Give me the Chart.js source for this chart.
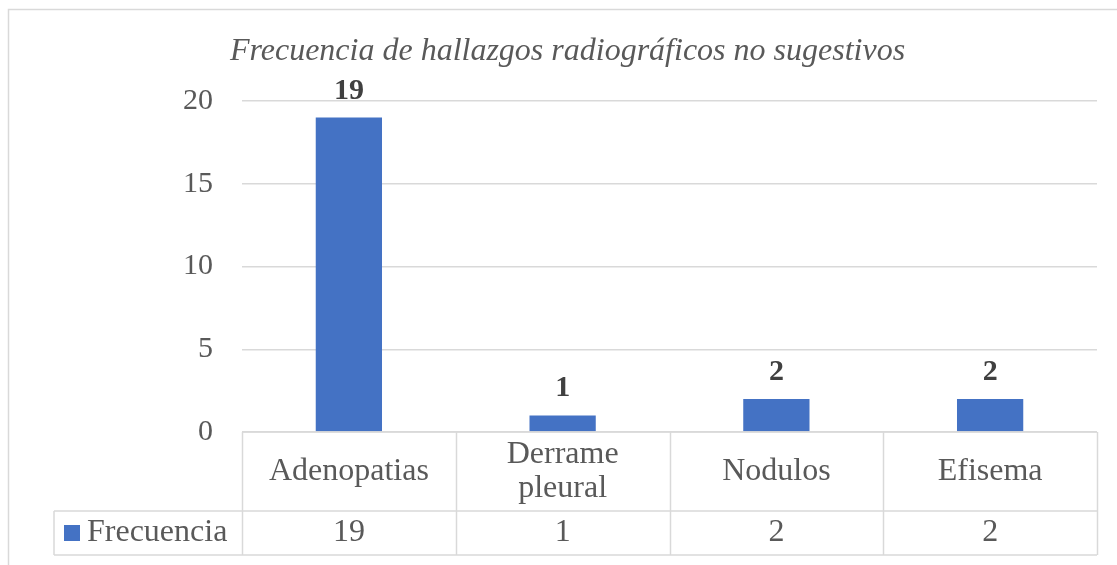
<!DOCTYPE html>
<html lang="es">
<head>
  <meta charset="UTF-8" />
  <title>Frecuencia de hallazgos radiográficos no sugestivos</title>
  <script src="https://cdn.jsdelivr.net/npm/chart.js"></script>
  <style>
    html, body { margin: 0; padding: 0; background: #fff; }
    #wrap { width: 1117px; height: 565px; position: relative; }
  </style>
</head>
<body>
  <div id="wrap"><canvas id="barChart"></canvas></div>
  <script>
    // data
    const categories = ['Adenopatias', ['Derrame', 'pleural'], 'Nodulos', 'Efisema'];
    const frecuencia = [19, 1, 2, 2];
    const seriesName = 'Frecuencia';
    const yTicks = [0, 5, 10, 15, 20];
    const chartTitle = 'Frecuencia de hallazgos radiográficos no sugestivos';

    const FONT = '"Liberation Serif", "Times New Roman", serif';
    const GREY = '#595959';
    const LINE = '#d9d9d9';
    const BLUE = '#4472c4';

    // outer chart border (right and bottom run off the picture) + title
    const frame = {
      id: 'frame',
      beforeDraw(chart) {
        const ctx = chart.ctx;
        ctx.save();
        ctx.strokeStyle = LINE;
        ctx.lineWidth = 1.5;
        ctx.strokeRect(8.5, 9.5, 1200, 700);
        ctx.font = 'italic 32px ' + FONT;
        ctx.fillStyle = GREY;
        ctx.textAlign = 'center';
        ctx.textBaseline = 'alphabetic';
        ctx.fillText(chartTitle, 567.5, 59.5);
        ctx.restore();
      }
    };

    // value labels above bars
    const barLabels = {
      id: 'barLabels',
      afterDatasetsDraw(chart) {
        const ctx = chart.ctx;
        const meta = chart.getDatasetMeta(0);
        ctx.save();
        ctx.font = 'bold 30px ' + FONT;
        ctx.fillStyle = '#404040';
        ctx.textAlign = 'center';
        ctx.textBaseline = 'alphabetic';
        meta.data.forEach((bar, i) => {
          ctx.fillText(String(frecuencia[i]), bar.x, bar.y - 19);
        });
        ctx.restore();
      }
    };

    // data table under the plot
    const dataTable = {
      id: 'dataTable',
      afterDraw(chart) {
        const ctx = chart.ctx;
        const area = chart.chartArea;
        const xs = chart.scales.x;
        const n = categories.length;
        const step = (area.right - area.left) / n;
        const top = area.bottom;
        const mid = top + 79;
        const bot = top + 123;
        const keyLeft = area.left - 188;

        ctx.save();
        ctx.strokeStyle = LINE;
        ctx.lineWidth = 1.5;
        ctx.beginPath();
        ctx.moveTo(area.left, top); ctx.lineTo(area.right, top);
        ctx.moveTo(keyLeft, mid); ctx.lineTo(area.right, mid);
        ctx.moveTo(keyLeft, bot); ctx.lineTo(area.right, bot);
        for (let i = 0; i <= n; i++) {
          const x = Math.round(area.left + i * step) + 0.5;
          ctx.moveTo(x, top); ctx.lineTo(x, bot);
        }
        ctx.moveTo(keyLeft, mid); ctx.lineTo(keyLeft, bot);
        ctx.stroke();

        ctx.font = '32px ' + FONT;
        ctx.fillStyle = GREY;
        ctx.textAlign = 'center';
        ctx.textBaseline = 'middle';
        categories.forEach((lab, i) => {
          const cx = xs.getPixelForValue(i);
          const lines = Array.isArray(lab) ? lab : [lab];
          const lh = 34;
          const y0 = (top + mid) / 2 - (lines.length - 1) * lh / 2;
          lines.forEach((t, j) => ctx.fillText(t, cx, y0 + j * lh));
          ctx.fillText(String(frecuencia[i]), cx, (mid + bot) / 2);
        });

        ctx.fillStyle = BLUE;
        ctx.fillRect(keyLeft + 10, (mid + bot) / 2 - 8, 16, 16);
        ctx.fillStyle = GREY;
        ctx.textAlign = 'left';
        ctx.fillText(seriesName, keyLeft + 33, (mid + bot) / 2);
        ctx.restore();
      }
    };

    new Chart(document.getElementById('barChart'), {
      type: 'bar',
      data: {
        labels: categories,
        datasets: [{
          label: seriesName,
          data: frecuencia,
          backgroundColor: BLUE,
          categoryPercentage: 1,
          barPercentage: 0.31
        }]
      },
      options: {
        responsive: true,
        maintainAspectRatio: false,
        animation: false,
        layout: { padding: { left: 18, right: 20, top: 101, bottom: 133 } },
        plugins: {
          legend: { display: false },
          tooltip: { enabled: false },
          title: { display: false }
        },
        scales: {
          x: { display: false },
          y: {
            min: 0,
            max: 20,
            afterBuildTicks(scale) { scale.ticks = yTicks.map(v => ({ value: v })); },
            afterFit(scale) { scale.width = 224; },
            border: { display: false },
            grid: { color: LINE, lineWidth: 1.5, drawTicks: false },
            ticks: { color: GREY, padding: 29, font: { family: FONT, size: 30 } }
          }
        }
      },
      plugins: [frame, barLabels, dataTable]
    });
  </script>
</body>
</html>
